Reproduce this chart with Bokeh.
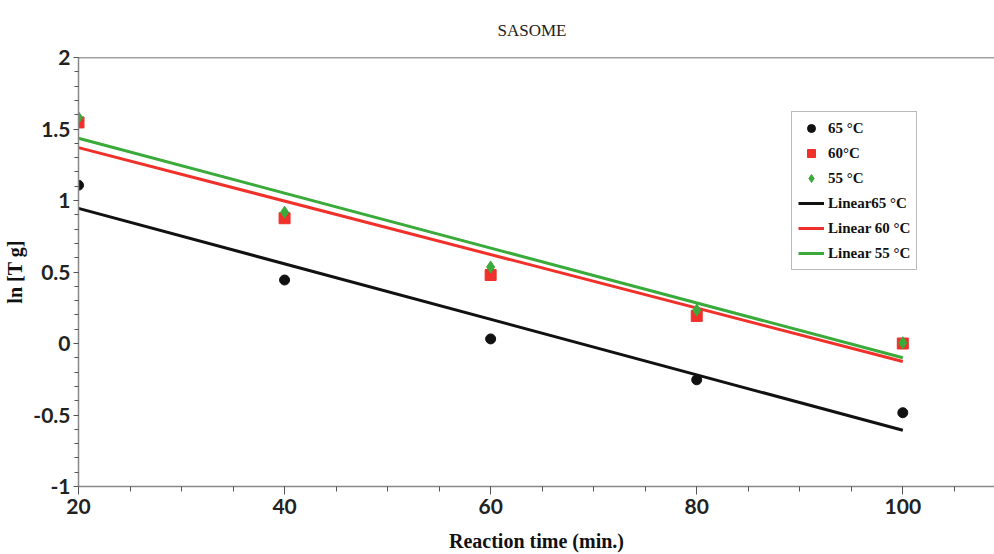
from bokeh.plotting import figure
from bokeh.models import Range1d, Span, Legend, LegendItem, FixedTicker
from bokeh.embed import file_html
from bokeh.resources import INLINE

# Data
time_min = [20, 40, 60, 80, 100]
ln_tg_65 = [1.107, 0.444, 0.032, -0.254, -0.484]
ln_tg_60 = [1.546, 0.876, 0.479, 0.193, 0.0]
ln_tg_55 = [1.58, 0.918, 0.535, 0.234, 0.005]

fit_x = [20, 100]
fit_65 = [0.945, -0.607]
fit_60 = [1.37, -0.126]
fit_55 = [1.435, -0.10]

x_ticks = [20, 40, 60, 80, 100]
y_ticks = [-1, -0.5, 0, 0.5, 1, 1.5, 2]
y_tick_labels = {-1: "-1", -0.5: "-0.5", 0: "0", 0.5: "0.5", 1: "1", 1.5: "1.5", 2: "2"}

p = figure(width=994, height=554, output_backend="svg", toolbar_location=None,
           x_range=Range1d(20, 108.9), y_range=Range1d(-1, 2),
           min_border_left=78, min_border_right=0, min_border_top=56, min_border_bottom=68)

p.title.text = "SASOME"
p.title.align = "left"
p.title.offset = 419
p.title.standoff = 36
p.title.text_font = "Liberation Serif"
p.title.text_font_style = "normal"
p.title.text_font_size = "17px"
p.title.text_color = "#222222"

p.grid.visible = False
p.outline_line_color = None
p.background_fill_color = "white"
p.border_fill_color = "white"

top = Span(location=2, dimension="width", line_color="#444444", line_width=1.5)
p.add_layout(top)

for ax in (p.xaxis[0], p.yaxis[0]):
    ax.axis_line_color = "#888888"
    ax.axis_line_width = 1.5
    ax.major_tick_line_color = "#555555"
    ax.minor_tick_line_color = "#555555"
    ax.major_tick_in = 0
    ax.minor_tick_in = 0
    ax.major_label_text_font = "Lato"
    ax.major_label_text_font_style = "bold"
    ax.major_label_text_font_size = "21px"
    ax.major_label_text_color = "#222222"
    ax.axis_label_text_font = "Liberation Serif"
    ax.axis_label_text_font_style = "bold"
    ax.axis_label_text_font_size = "20px"
    ax.axis_label_text_color = "#111111"

p.xaxis[0].ticker = FixedTicker(ticks=x_ticks, minor_ticks=list(range(20, 110, 5)))
p.yaxis[0].ticker = FixedTicker(ticks=y_ticks, minor_ticks=[round(-1 + 0.1 * i, 1) for i in range(31)])
p.yaxis[0].major_label_overrides = y_tick_labels
p.xaxis[0].major_tick_out = 8
p.xaxis[0].minor_tick_out = 5
p.yaxis[0].major_tick_out = 5
p.yaxis[0].minor_tick_out = 4
p.xaxis[0].axis_label = "Reaction time (min.)"
p.yaxis[0].axis_label = "ln [T g]"
p.xaxis[0].major_label_standoff = 4
p.yaxis[0].major_label_standoff = 3
p.xaxis[0].axis_label_standoff = 13
p.yaxis[0].axis_label_standoff = 4

black = "#111111"
red = "#f0302a"
green = "#3aab3a"

l65 = p.line(fit_x, fit_65, line_color=black, line_width=3)
l60 = p.line(fit_x, fit_60, line_color=red, line_width=3)
l55 = p.line(fit_x, fit_55, line_color=green, line_width=3)

s65 = p.scatter(time_min, ln_tg_65, marker="circle", size=10, fill_color=black, line_color=black)
s60 = p.scatter(time_min, ln_tg_60, marker="square", size=11, fill_color=red, line_color=red)
s55 = p.scatter(time_min, ln_tg_55, marker="diamond", size=12, fill_color=green, line_color=green)

legend = Legend(items=[
    LegendItem(label="65 °C", renderers=[s65]),
    LegendItem(label="60°C", renderers=[s60]),
    LegendItem(label="55 °C", renderers=[s55]),
    LegendItem(label="Linear65 °C", renderers=[l65]),
    LegendItem(label="Linear 60 °C", renderers=[l60]),
    LegendItem(label="Linear 55 °C", renderers=[l55]),
], location=(713, 216))
legend.label_text_font = "Liberation Serif"
legend.label_text_font_style = "bold"
legend.label_text_font_size = "15px"
legend.label_text_color = "#111111"
legend.border_line_color = "#777777"
legend.border_line_width = 1.5
legend.background_fill_alpha = 1
legend.glyph_width = 26
legend.label_standoff = 4
legend.spacing = 5
legend.padding = 6
legend.margin = 0
p.add_layout(legend)

open("out.html", "w").write(file_html(p, INLINE))
